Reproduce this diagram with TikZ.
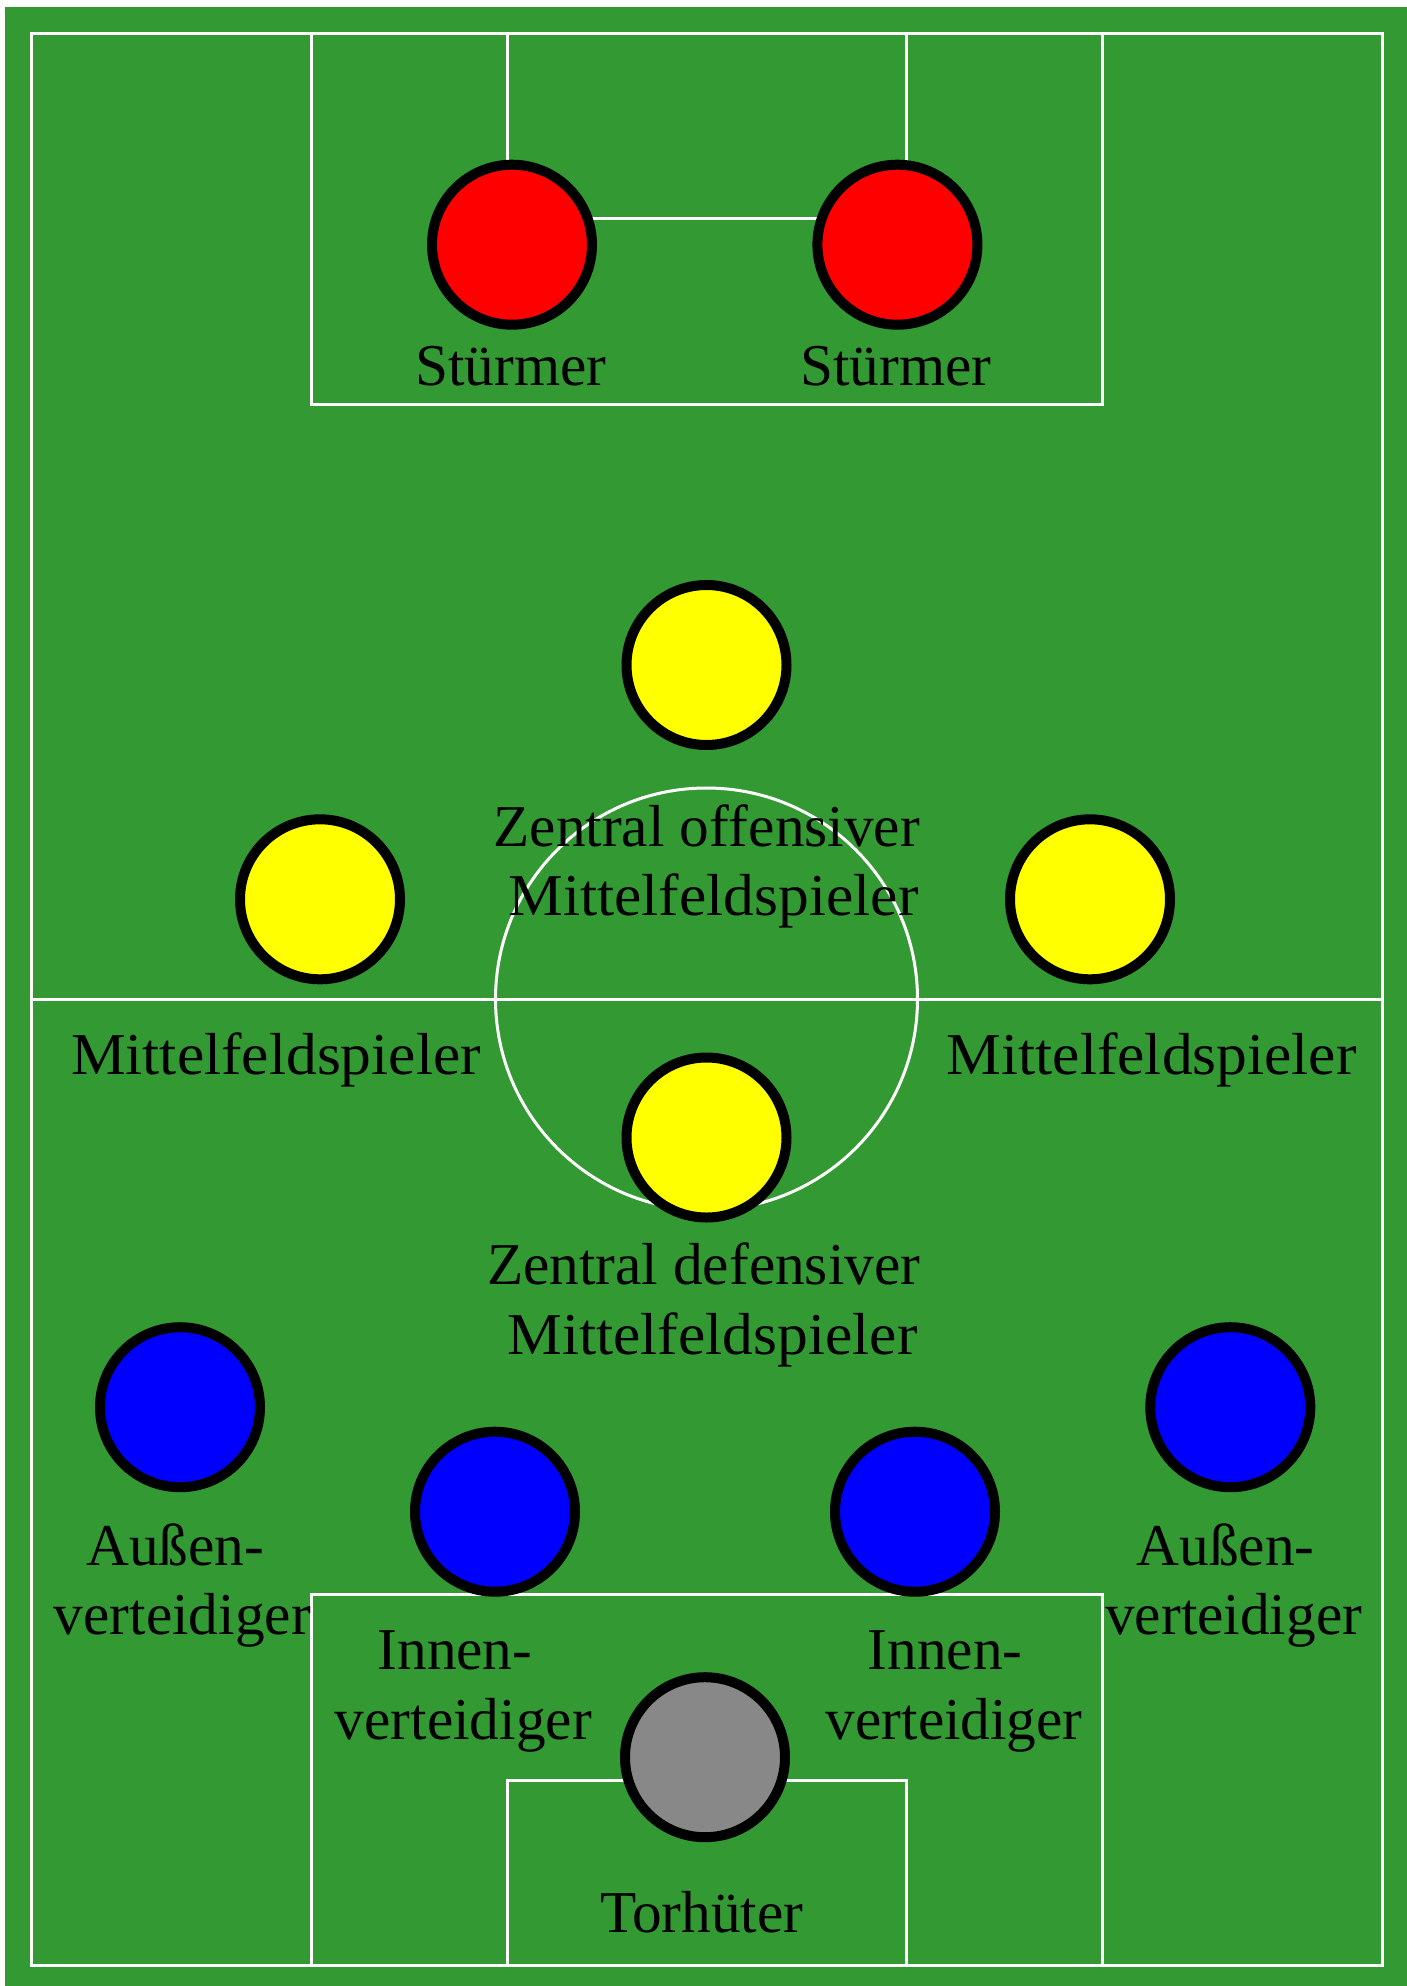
\documentclass[tikz,border=0pt]{standalone}
\usepackage{fontspec}
\usepackage{graphicx}
\setmainfont{Liberation Serif}
\definecolor{pitch}{RGB}{51,153,51}
\definecolor{keeper}{RGB}{136,136,136}
\definecolor{pred}{RGB}{255,0,0}
\definecolor{pyellow}{RGB}{255,255,0}
\definecolor{pblue}{RGB}{0,0,255}
\newcommand{\mfword}{\scalebox{1.037}[1]{Mittelfeldspieler}}
\begin{document}
\begin{tikzpicture}[x=1pt,y=-1pt,
  fieldline/.style={draw=white,line width=3pt},
  player/.style={circle,draw=black,line width=10pt,minimum size=160pt,inner sep=0pt},
  lbl/.style={inner sep=0pt,anchor=base,font=\fontsize{59.3}{69}\selectfont}]
\useasboundingbox (0,0) rectangle (1407,1986);
\fill[white] (0,0) rectangle (1407,1986);
\fill[pitch] (5,7) rectangle (1407,1986);
% field markings
\draw[fieldline] (31,33) rectangle (1382,1965);
\draw[fieldline] (311,33) rectangle (1102,404);
\draw[fieldline] (507,33) rectangle (906,218);
\draw[fieldline] (311,1594) rectangle (1102,1965);
\draw[fieldline] (507,1780) rectangle (906,1965);
\draw[fieldline] (31,999) -- (1382,999);
\draw[fieldline] (706.5,999) circle[radius=211];
% players
\node[player,fill=pred] (stL) at (512,244.7) {};
\node[player,fill=pred] (stR) at (897.4,244.7) {};
\node[player,fill=pyellow] (zom) at (706.5,665) {};
\node[player,fill=pyellow] (mfL) at (320,899.3) {};
\node[player,fill=pyellow] (mfR) at (1090,899.3) {};
\node[player,fill=pyellow] (zdm) at (706.5,1137.5) {};
\node[player,fill=pblue] (auL) at (180,1407.2) {};
\node[player,fill=pblue] (auR) at (1230.3,1407.2) {};
\node[player,fill=pblue] (inL) at (495,1511.7) {};
\node[player,fill=pblue] (inR) at (915,1511.7) {};
\node[player,fill=keeper] (tw) at (705,1757.2) {};
% labels
\node[lbl] (tstL) at (511,385) {Stürmer};
\node[lbl] (tstR) at (896,385) {Stürmer};
\node[lbl] (tzom1) at (706.7,846.7) {Zentral of\kern0ptfensiver};
\node[lbl] (tzom2) at (713.5,915.7) {\mfword};
\node[lbl] (tmfL) at (276,1074) {\mfword};
\node[lbl] (tmfR) at (1151.7,1074) {\mfword};
\node[lbl] (tzdm1) at (703.7,1284.3) {Zentral defensiver};
\node[lbl] (tzdm2) at (712.5,1354) {\mfword};
\node[lbl] (tauL1) at (175.3,1565) {Außen-};
\node[lbl] (tauL2) at (182.3,1634.3) {verteidiger};
\node[lbl] (tauR1) at (1225.5,1565) {Außen-};
\node[lbl] (tauR2) at (1233.7,1634.3) {verteidiger};
\node[lbl] (tinL1) at (455,1669.3) {Innen-};
\node[lbl] (tinL2) at (463.3,1739.3) {verteidiger};
\node[lbl] (tinR1) at (945,1669.3) {Innen-};
\node[lbl] (tinR2) at (954.2,1739.3) {verteidiger};
\node[lbl] (ttw) at (701.7,1932.7) {Torhüter};
\end{tikzpicture}
\end{document}
